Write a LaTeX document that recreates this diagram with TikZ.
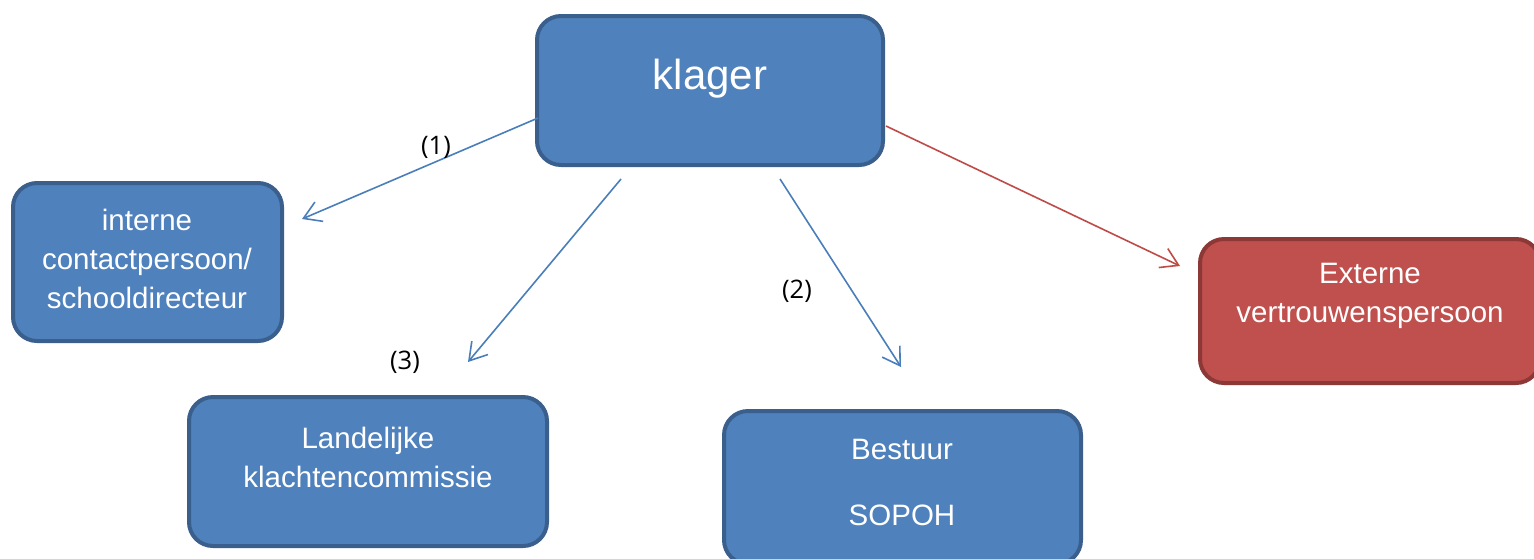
\documentclass[tikz,border=0pt]{standalone}
\usepackage{fontspec}
\setmainfont{Liberation Sans}
\newfontfamily\labfont{Open Sans}
\usetikzlibrary{arrows.meta}
\definecolor{bfill}{HTML}{4F81BD}
\definecolor{bdraw}{HTML}{3A5F8C}
\definecolor{rfill}{HTML}{C0504D}
\definecolor{rdraw}{HTML}{8C3836}
\definecolor{barrow}{HTML}{4A7EBB}
\definecolor{rarrow}{HTML}{BE4B48}
\tikzset{
  box/.style={rectangle, rounded corners=24pt, line width=4pt, fill=bfill, draw=bdraw, inner sep=0pt, outer sep=0pt},
  rbox/.style={box, fill=rfill, draw=rdraw},
  boxtext/.style={text=white, font=\fontsize{29.5}{39}\selectfont, align=center, inner sep=0pt},
  conn/.style={line width=1.6pt, draw=barrow, -{Straight Barb[length=17pt,width=21pt,line width=1.6pt]}},
  rconn/.style={conn, draw=rarrow},
  lab/.style={font=\labfont\fontsize{25.5}{30}\selectfont, text=black, inner sep=0pt}
}
\begin{document}
\begin{tikzpicture}[x=1pt,y=-1pt]
\useasboundingbox (0,0) rectangle (1534,558);
% boxes
\node[box, minimum width=346pt, minimum height=149pt] (klager) at (710,90.5) {};
\node[boxtext, font=\fontsize{42}{48}\selectfont, anchor=base] (klagerT) at (710,89) {klager};

\node[box, minimum width=269pt, minimum height=158pt] (interne) at (147.5,262) {};
\node[boxtext] (interneT) at (147,259) {interne\\contactpersoon/\\schooldirecteur};

\node[box, minimum width=358pt, minimum height=149pt] (landelijke) at (368,471.5) {};
\node[boxtext] (landelijkeT) at (368,457) {Landelijke\\klachtencommissie};

\node[box, minimum width=357pt, minimum height=153pt] (bestuur) at (902.5,487.5) {};
\node[boxtext, font=\fontsize{29.5}{66}\selectfont] (bestuurT) at (902,482) {Bestuur\\SOPOH};

\node[rbox, minimum width=340pt, minimum height=144pt] (externe) at (1370,311) {};
\node[boxtext] (externeT) at (1370,296) {Externe\\vertrouwenspersoon};

% connector end points
\coordinate (s1) at (538,118);
\coordinate (e1) at (302,219);
\coordinate (s3) at (621,179);
\coordinate (e3) at (468,362);
\coordinate (s2) at (780,179);
\coordinate (e2) at (901,367);
\coordinate (s4) at (886,126);
\coordinate (e4) at (1180,266);

\draw[conn] (s1) -- (e1);
\draw[conn] (s3) -- (e3);
\draw[conn] (s2) -- (e2);
\draw[rconn] (s4) -- (e4);

% labels
\node[lab] (l1) at (436,147) {(1)};
\node[lab] (l3) at (405,362) {(3)};
\node[lab] (l2) at (797,291) {(2)};
\end{tikzpicture}
\end{document}
